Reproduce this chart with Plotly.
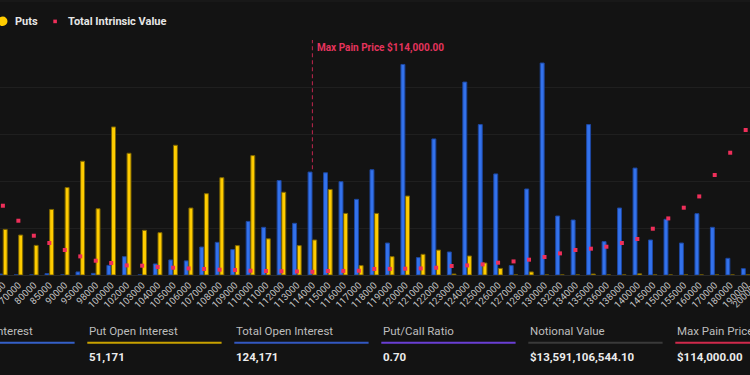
import plotly.graph_objects as go

# ---------------- data ----------------
strikes = [60000, 70000, 80000, 85000, 90000, 95000, 98000, 100000, 102000, 103000,
           104000, 105000, 106000, 107000, 108000, 109000, 110000, 111000, 112000, 113000,
           114000, 115000, 116000, 117000, 118000, 119000, 120000, 121000, 122000, 123000,
           124000, 125000, 126000, 127000, 128000, 130000, 132000, 134000, 135000, 136000,
           138000, 140000, 145000, 150000, 155000, 160000, 170000, 180000, 190000, 200000]

call_oi = [20, 0, 0, 30, 0, 65, 35, 205, 390, 0,
           235, 320, 300, 595, 695, 540, 1140, 1015, 2010, 1100,
           2190, 2175, 1985, 1610, 2240, 680, 4480, 370, 2895, 490,
           4105, 3200, 2150, 200, 1830, 4510, 1255, 1170, 3200, 710,
           1425, 2275, 745, 1185, 680, 1305, 1015, 355, 135, 300]

put_oi = [970, 850, 630, 1395, 1860, 2420, 1410, 3150, 2590, 950,
          900, 2760, 1425, 1730, 2070, 625, 2540, 770, 1760, 625,
          745, 1820, 1310, 200, 1310, 390, 1680, 440, 530, 20,
          405, 255, 140, 0, 65, 0, 0, 0, 20, 0,
          0, 25, 0, 0, 0, 0, 0, 0, 0, 0]

# total intrinsic value (USD millions)
intrinsic_value = [1474, 1155, 836, 681, 532, 396, 304, 255, 204, 198,
                   170, 155, 140, 128, 113, 106, 91, 85, 80, 75,
                   68, 85, 87, 91, 128, 130, 134, 140, 155, 191,
                   204, 226, 262, 289, 326, 383, 460, 532, 560, 602,
                   681, 766, 985, 1204, 1432, 1672, 2128, 2602, 3085, 3570]

stat_titles = ["Call Open Interest", "Put Open Interest", "Total Open Interest",
               "Put/Call Ratio", "Notional Value", "Max Pain Price"]
stat_values = ["73,000", "51,171", "124,171", "0.70", "$13,591,106,544.10", "$114,000.00"]
stat_colors = ["#3560c8", "#c9a200", "#3358c2", "#6a3fd4", "#3a3a3a", "#d02a4c"]

max_pain = 114000

# ---------------- layout constants ----------------
W, H = 750, 375
T, B = 40, 100
PLOT_H = H - T - B
BG = "#131313"
FONT = "Roboto, Inter, sans-serif"
X_RANGE = [-0.187, 48.28]
Y_MAX = 5000


def xp(px):
    return px / W


def yp(py):
    return (H - B - py) / PLOT_H


labels = [str(s) for s in strikes]

fig = go.Figure()
fig.add_bar(x=labels, y=call_oi, name="Calls",
            marker=dict(color="#3372ec", line=dict(color="#1d47a0", width=1)),
            showlegend=False)
fig.add_bar(x=labels, y=put_oi, name="Puts",
            marker=dict(color="#ffcc00", line=dict(color="#7d6500", width=1)),
            showlegend=False)
fig.add_scatter(x=labels, y=intrinsic_value, mode="markers", name="Total Intrinsic Value",
                marker=dict(symbol="square", size=4, color="#ee2f5a"),
                yaxis="y2", showlegend=False, cliponaxis=True)

mp_idx = strikes.index(max_pain)

shapes = []
annotations = []

# max pain dashed line (category index position)
shapes.append(dict(type="line", xref="x", yref="y", x0=mp_idx, x1=mp_idx,
                   y0=call_oi[mp_idx] + 60, y1=Y_MAX,
                   line=dict(color="#c0264e", width=1, dash="4px,3px")))
annotations.append(dict(xref="x", yref="y", x=mp_idx, y=Y_MAX, xanchor="left", yanchor="top",
                        xshift=3, yshift=1, showarrow=False,
                        text="<b>Max Pain Price $114,000.00</b>",
                        font=dict(family=FONT, size=10, color="#e5335d")))

# partially visible last strike label (its tick lies just beyond the right edge)
last_frac = (len(strikes) - 1 - X_RANGE[0]) / (X_RANGE[1] - X_RANGE[0])
annotations.append(dict(xref="paper", yref="paper", x=last_frac, y=yp(276), xanchor="right",
                        yanchor="top", showarrow=False, text=labels[-1], textangle=-45,
                        xshift=2, font=dict(family=FONT, size=9.5, color="#c4c4c4")))

# top separator
shapes.append(dict(type="line", xref="paper", yref="paper", x0=0, x1=1, y0=yp(1), y1=yp(1),
                   line=dict(color="#1f1f1f", width=1)))

# legend (manual)
shapes.append(dict(type="circle", xref="paper", yref="paper", x0=xp(-2), x1=xp(7.5),
                   y0=yp(26), y1=yp(16.5), fillcolor="#ffcc00", line=dict(width=0)))
annotations.append(dict(xref="paper", yref="paper", x=xp(13), y=yp(21.5), xanchor="left",
                        yanchor="middle", showarrow=False, text="<b>Puts</b>",
                        font=dict(family=FONT, size=11, color="#e6e6e6")))
shapes.append(dict(type="rect", xref="paper", yref="paper", x0=xp(53.3), x1=xp(56.9),
                   y0=yp(23.2), y1=yp(19.6), fillcolor="#ee2f5a", line=dict(width=0)))
annotations.append(dict(xref="paper", yref="paper", x=xp(66), y=yp(21.5), xanchor="left",
                        yanchor="middle", showarrow=False, text="<b>Total Intrinsic Value</b>",
                        font=dict(family=FONT, size=11, color="#e6e6e6")))

# stats cards
card_x0 = -59.7
pitch = 147.0
card_w = 134.3
for i, (t, v, c) in enumerate(zip(stat_titles, stat_values, stat_colors)):
    x0 = card_x0 + i * pitch
    annotations.append(dict(xref="paper", yref="paper", x=xp(x0), y=yp(331), xanchor="left",
                            yanchor="middle", showarrow=False, text=t,
                            font=dict(family=FONT, size=11.5, color="#bdbdbd")))
    shapes.append(dict(type="line", xref="paper", yref="paper", x0=xp(x0), x1=xp(x0 + card_w),
                       y0=yp(342.7), y1=yp(342.7), line=dict(color=c, width=2)))
    annotations.append(dict(xref="paper", yref="paper", x=xp(x0), y=yp(356.5), xanchor="left",
                            yanchor="middle", showarrow=False, text="<b>" + v + "</b>",
                            font=dict(family=FONT, size=11.5, color="#ececec")))

fig.update_layout(
    width=W, height=H,
    margin=dict(l=0, r=0, t=T, b=B, pad=0, autoexpand=False),
    paper_bgcolor=BG, plot_bgcolor=BG,
    barmode="group", bargap=0.4, bargroupgap=0.15,
    showlegend=False,
    font=dict(family=FONT, color="#cccccc"),
    xaxis=dict(type="category", range=X_RANGE, tickangle=-45, showgrid=False, automargin=False,
               tickfont=dict(family=FONT, size=9.5, color="#c4c4c4"),
               showline=True, linecolor="#2a2a2a", linewidth=1, ticks=""),
    yaxis=dict(range=[0, Y_MAX], dtick=1000, showticklabels=False, gridcolor="#1f1f1f",
               zeroline=False, automargin=False),
    yaxis2=dict(range=[0, Y_MAX], overlaying="y", visible=False, automargin=False),
    shapes=shapes,
    annotations=annotations,
)

page_js = ("document.body.style.margin='0';document.body.style.padding='0';"
           "document.body.style.overflow='hidden';document.body.style.background='#131313';")
fig.write_html("out.html", post_script=page_js, config={"displayModeBar": False})
